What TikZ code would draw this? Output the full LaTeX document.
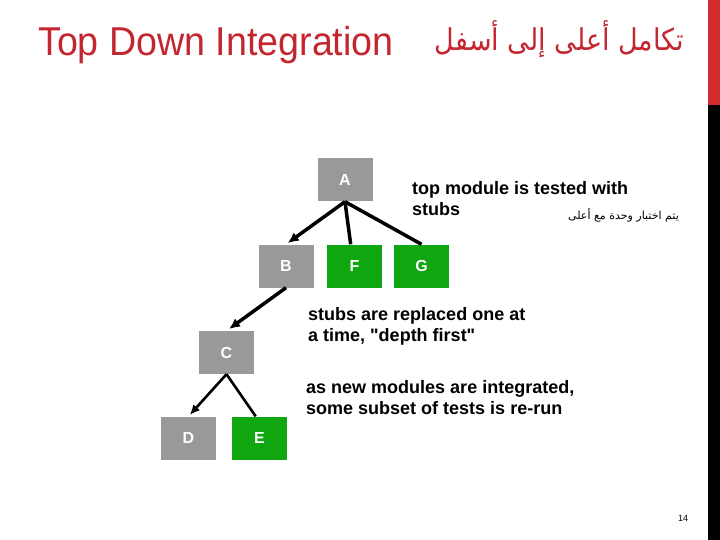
\documentclass[tikz,border=0pt]{standalone}
\usepackage{fontspec}
\setmainfont{Liberation Sans}[Ligatures=TeXOff]
\newfontfamily\arabicfont[Script=Arabic]{DejaVu Sans}
\TeXXeTstate=1
\usetikzlibrary{arrows.meta}

\definecolor{titlered}{RGB}{196,38,48}
\definecolor{barred}{RGB}{209,42,47}
\definecolor{boxgray}{RGB}{153,153,153}
\definecolor{stubgreen}{RGB}{16,166,16}

\tikzset{
  module/.style={fill=boxgray, minimum width=55pt, minimum height=43pt, inner sep=0pt,
    text=white, font=\fontsize{16}{16}\selectfont\bfseries},
  stub/.style={module, fill=stubgreen},
  call/.style={line width=3.5pt},
  callarrow/.style={call, -{Latex[length=11pt,width=10pt]}},
  subcall/.style={line width=2.6pt},
  subcallarrow/.style={subcall, -{Latex[length=10pt,width=9pt]}},
  note/.style={anchor=north west, align=left, inner sep=0pt,
    font=\fontsize{18}{21}\selectfont\bfseries},
}

\begin{document}
\begin{tikzpicture}[x=1pt, y=-1pt]
            \useasboundingbox (0,0) rectangle (720,540);

            % side bar at the right edge
            \fill[barred] (708,0) rectangle (720,105);
            \fill[black] (708,105) rectangle (720,540);

            % title, latin and arabic
            \node[anchor=base west, inner sep=0pt, text=titlered,
                  font=\fontsize{38}{38}\selectfont] (title) at (38,56)
                  {\scalebox{0.99}[1.06]{Top Down Integration}};
            \node[anchor=base east, inner sep=0pt, text=titlered,
                  font=\arabicfont\fontsize{30}{30}\selectfont] (artitle) at (684,51)
                  {\scalebox{0.9}[1.0]{\beginR تكامل أعلى إلى أسفل\endR}};

            % modules of the tree
            \node[module] (A) at (345,180) {A};
            \node[module] (B) at (286,266) {B};
            \node[stub]   (F) at (354.5,266) {F};
            \node[stub]   (G) at (421.5,266) {G};
            \node[module] (C) at (226.5,352.5) {C};
            \node[module] (D) at (188.5,438) {D};
            \node[stub]   (E) at (259.5,438) {E};

            % calls between modules
            \draw[callarrow, shorten >=2pt] (A.south) -- (B.north);
            \draw[call] (A.south) -- (F.100);
            \draw[call] (A.south) -- (G.north);
            \draw[callarrow, shorten >=3pt] (B.south) -- (C.north);
            \draw[subcallarrow, shorten >=2pt] (C.south) -- (D.north); % to D
            \draw[subcall] (C.south) -- (E.100); % to the stub E

            % notes
            \node[note] (topnote) at (412,181) {top module is tested with\\stubs};
            \node[anchor=base east, inner sep=0pt,
                  font=\arabicfont\fontsize{11}{11}\selectfont] (arnote) at (679,219)
                  {\beginR يتم اختبار وحدة مع أعلى\endR};
            \node[note] (stubnote) at (308,307) {stubs are replaced one at\\a time, "depth first"};
            \node[note] (intnote) at (306,380) {as new modules are integrated,\\some subset of tests is re-run};

            % page number
            \node[anchor=base, inner sep=0pt, font=\fontsize{9}{9}\selectfont] (pagenum) at (683,521) {14};
\end{tikzpicture}
\end{document}
